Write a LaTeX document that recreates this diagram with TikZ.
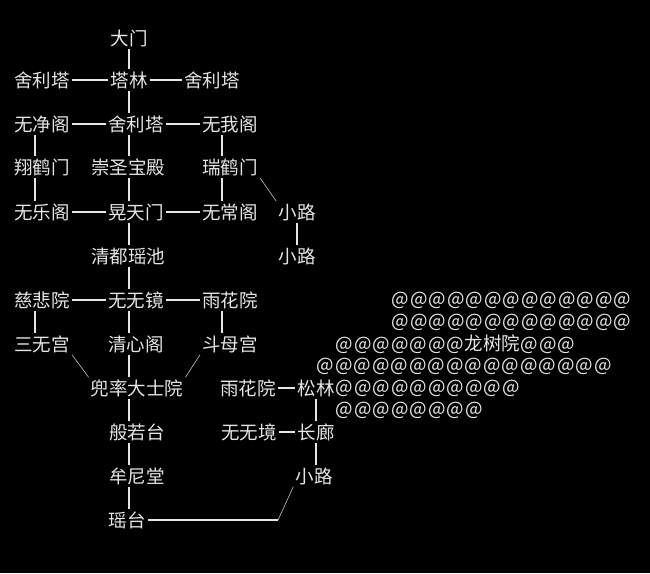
\documentclass[tikz,border=0pt]{standalone}
\usepackage{fontspec}
\newfontfamily\cjk{Noto Sans CJK SC}
\usetikzlibrary{positioning}
\newcommand\atcells[1]{\ifnum#1>0 \makebox[18.5pt]{@}\expandafter\atcells\expandafter{\the\numexpr#1-1\relax}\fi}
\begin{document}
\begin{tikzpicture}[x=1pt, y=-1pt,
    place/.style={text=white!90!black, font=\cjk\fontsize{18.5}{18.5}\selectfont, inner sep=2pt},
    atrow/.style={place, anchor=west, inner sep=0pt},
    bar/.style={draw=white!90!black, line width=1.6pt},
    dashline/.style={draw=white!90!black, line width=1.2pt},
    slant/.style={draw=white!75!black, line width=0.6pt}
]
    \fill[black] (0,0) rectangle (650,573);
    \useasboundingbox (0,0) rectangle (650,573);
    \coordinate (axis) at (129,0);
    % Main axis
    \node[place] (gate) at (129,38) {大门};
    \node[place] (pagodaL) at (42,80) {舍利塔};
    \node[place] (forest) at (129,80) {塔林};
    \node[place] (pagodaR) at (212,80) {舍利塔};
    \node[place] (wujing) at (42,124) {无净阁};
    \node[place] (pagodaC) at (136,124) {舍利塔};
    \node[place] (wuwo) at (230,124) {无我阁};
    \node[place] (xianghe) at (42,167) {翔鹤门};
    \node[place] (hall) at (128,167) {崇圣宝殿};
    \node[place] (ruihe) at (230,167) {瑞鹤门};
    \node[place] (wule) at (42,212) {无乐阁};
    \node[place] (huangtian) at (136,212) {晃天门};
    \node[place] (wuchang) at (230,212) {无常阁};
    \node[place] (pathA) at (297,212) {小路};
    \node[place] (pool) at (128,256) {清都瑶池};
    \node[place] (pathB) at (297,256) {小路};
    \node[place] (cibei) at (42,300) {慈悲院};
    \node[place] (mirror) at (136,300) {无无镜};
    \node[place] (yuhua) at (230,300) {雨花院};
    \node[place] (sanwu) at (42,344) {三无宫};
    \node[place] (qingxin) at (136,344) {清心阁};
    \node[place] (doumu) at (230,344) {斗母宫};
    \node[place] (doushuai) at (137,388) {兜率大士院};
    \node[place] (yuhuaB) at (248,388) {雨花院};
    \node[place] (pine) at (316,388) {松林};
    \node[place] (prajna) at (137,432) {般若台};
    \node[place] (jing) at (249,432) {无无境};
    \node[place] (corridor) at (316,432) {长廊};
    \node[place] (muni) at (137,476) {牟尼堂};
    \node[place] (pathC) at (314,476) {小路};
    \node[place] (yaotai) at (127,520) {瑶台};
    \coordinate (roadEnd) at (278,520);

    % Vertical bars
    \draw[bar] (gate) -- (forest);
    \draw[bar] (forest) -- (axis |- pagodaC.north);
    \draw[bar] (axis |- pagodaC.south) -- (axis |- hall.north);
    \draw[bar] (axis |- hall.south) -- (axis |- huangtian.north);
    \draw[bar] (axis |- huangtian.south) -- (axis |- pool.north);
    \draw[bar] (axis |- pool.south) -- (axis |- mirror.north);
    \draw[bar] (axis |- mirror.south) -- (axis |- qingxin.north);
    \draw[bar] (axis |- qingxin.south) -- (axis |- doushuai.north);
    \draw[bar] (axis |- doushuai.south) -- (axis |- prajna.north);
    \draw[bar] (axis |- prajna.south) -- (axis |- muni.north);
    \draw[bar] (axis |- muni.south) -- (axis |- yaotai.north);
    \draw[bar] ([xshift=-7pt]wujing.south) -- ([xshift=-7pt]xianghe.north);
    \draw[bar] ([xshift=-7pt]xianghe.south) -- ([xshift=-7pt]wule.north);
    \draw[bar] ([xshift=-7pt]cibei.south) -- ([xshift=-7pt]sanwu.north);
    \draw[bar] ([xshift=-8pt]wuwo.south) -- ([xshift=-8pt]ruihe.north);
    \draw[bar] ([xshift=-8pt]ruihe.south) -- ([xshift=-8pt]wuchang.north);
    \draw[bar] ([xshift=-8pt]yuhua.south) -- ([xshift=-8pt]doumu.north);
    \draw[bar] (pathA) -- (pathB);
    \draw[bar] (pine) -- (corridor);
    \draw[bar] (corridor) -- (corridor |- pathC.north);

    % Horizontal links
    \draw[dashline] (pagodaL) -- (forest);
    \draw[dashline] (forest) -- (pagodaR);
    \draw[dashline] (wujing) -- (pagodaC);
    \draw[dashline] (pagodaC) -- (wuwo);
    \draw[dashline] (wule) -- (huangtian);
    \draw[dashline] (huangtian) -- (wuchang);
    \draw[dashline] (cibei) -- (mirror);
    \draw[dashline] (mirror) -- (yuhua);
    \draw[dashline] (yuhuaB) -- (pine);
    \draw[dashline] (jing) -- (corridor);
    \draw[dashline] (yaotai) -- (roadEnd);

    % Slanted links
    \draw[slant] (ruihe.south east) -- (pathA.north west);
    \draw[slant] (sanwu.south east) -- (doushuai.north west);
    \draw[slant] (doumu.south west) -- (doushuai.north east);
    \draw[slant] (pathC.south west) -- (roadEnd);

    % Pine field
    \node[atrow] (fieldA) at (391,300) {\atcells{13}};
    \node[atrow] (fieldB) at (391,322) {\atcells{13}};
    \node[atrow] (fieldC) at (335,344) {\atcells{7}龙树院\atcells{3}};
    \node[atrow] (fieldD) at (316,366) {\atcells{16}};
    \node[atrow] (fieldE) at (335,388) {\atcells{10}};
    \node[atrow] (fieldF) at (335,410) {\atcells{8}};
\end{tikzpicture}
\end{document}
